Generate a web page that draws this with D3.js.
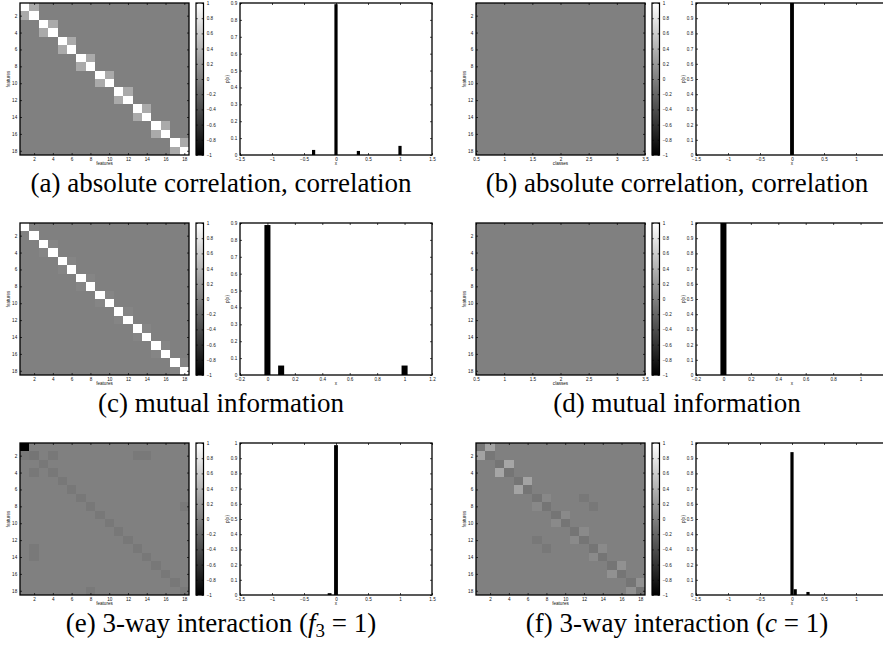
<!DOCTYPE html>
<html><head><meta charset="utf-8">
<script src="https://cdn.jsdelivr.net/npm/d3@7"></script>
<style>body{margin:0;background:#fff} svg{display:block;opacity:0.999}</style>
</head><body>
<svg id="c" width="883" height="647"></svg>
<script>
// ---------------- data ----------------
const featureTicks = [2,4,6,8,10,12,14,16,18];
const classTicks = [0.5,1,1.5,2,2.5,3,3.5];
const colorbarTicks = [-1,-0.8,-0.6,-0.4,-0.2,0,0.2,0.4,0.6,0.8,1];
const xTicksWide = [-1.5,-1,-0.5,0,0.5,1,1.5];
const xTicksNarrow = [-0.2,0,0.2,0.4,0.6,0.8,1,1.2];
const yTicks09 = [0,0.1,0.2,0.3,0.4,0.5,0.6,0.7,0.8,0.9];
const yTicks10 = [0,0.1,0.2,0.3,0.4,0.5,0.6,0.7,0.8,0.9,1];

// heatmap non-zero cells: [row, col, value]; all other cells are 0
const heatA = [
 [1,1,1],[1,2,0.33],[2,1,0.33],[2,2,1],
 [3,3,1],[3,4,0.33],[4,3,0.33],[4,4,1],
 [5,5,1],[5,6,0.33],[6,5,0.33],[6,6,1],
 [7,7,1],[7,8,0.33],[8,7,0.33],[8,8,1],
 [9,9,1],[9,10,0.33],[10,9,0.33],[10,10,1],
 [11,11,1],[11,12,0.33],[12,11,0.33],[12,12,1],
 [13,13,1],[13,14,0.33],[14,13,0.33],[14,14,1],
 [15,15,1],[15,16,0.33],[16,15,0.33],[16,16,1],
 [17,17,1],[17,18,0.33],[18,17,0.33],[18,18,1]
];
const heatB = [];
const heatC = [
 [1,1,1],[1,2,0.02],[2,1,0.02],[2,2,1],
 [3,3,1],[3,4,0.04],[4,3,0.04],[4,4,1],
 [5,5,1],[5,6,0.04],[6,5,0.04],[6,6,1],
 [7,7,1],[7,8,0.04],[8,7,0.04],[8,8,1],
 [9,9,1],[9,10,0.04],[10,9,0.04],[10,10,1],
 [11,11,1],[11,12,0.04],[12,11,0.04],[12,12,1],
 [13,13,1],[13,14,0.04],[14,13,0.04],[14,14,1],
 [15,15,1],[15,16,0.04],[16,15,0.04],[16,16,1],
 [17,17,1],[17,18,0.04],[18,17,0.04],[18,18,1]
];
const heatD = [];
const heatE = [
 [1,1,-1],
 [2,1,-0.06],[2,2,-0.08],[2,4,-0.06],[2,13,-0.05],[2,14,-0.05],
 [3,3,-0.06],[4,2,-0.06],[4,4,-0.06],
 [5,5,-0.06],[6,6,-0.06],[7,7,-0.06],[8,8,-0.06],[8,18,-0.05],
 [9,9,-0.06],[10,10,-0.06],[11,11,-0.06],[12,12,-0.06],
 [13,2,-0.05],[13,13,-0.06],[14,2,-0.05],[14,14,-0.06],
 [15,15,-0.06],[16,16,-0.06],[17,17,-0.06],
 [18,8,-0.05],[18,18,-0.04]
];
const heatF = [
 [1,1,-0.07],[1,2,0.28],[2,1,0.28],[2,2,-0.07],
 [3,3,-0.08],[3,4,0.3],[4,3,0.3],[4,4,-0.08],
 [5,5,-0.08],[5,6,0.28],[6,5,0.28],[6,6,-0.08],
 [7,7,-0.08],[7,8,0.07],[8,7,0.07],[8,8,-0.08],[7,12,-0.06],[8,13,-0.06],
 [9,9,-0.08],[9,10,0.08],[10,9,0.08],[10,10,-0.08],
 [11,11,-0.08],[11,12,0.08],[12,11,0.08],[12,12,-0.08],[12,7,-0.06],[13,8,-0.06],
 [13,13,-0.08],[13,14,0.08],[14,13,0.08],[14,14,-0.08],
 [15,15,-0.08],[15,16,0.14],[16,15,0.14],[16,16,-0.08],
 [17,17,-0.08],[17,18,0.14],[18,17,0.14],[18,18,-0.08]
];

// histogram bars
const barsAx = [-0.35, 0, 0.35, 1.0];
const barsAy = [0.03, 0.893, 0.024, 0.054];
const barsBx = [0];
const barsBy = [1.0];
const barsCx = [0, 0.1, 1.0];
const barsCy = [0.888, 0.056, 0.056];
const barsDx = [0];
const barsDy = [1.0];
const barsEx = [-0.1, 0];
const barsEy = [0.012, 0.986];
const barsFx = [0, 0.05, 0.25];
const barsFy = [0.94, 0.038, 0.02];

const captions = [
 [{t:"(a) absolute correlation, correlation"}],
 [{t:"(b) absolute correlation, correlation"}],
 [{t:"(c) mutual information"}],
 [{t:"(d) mutual information"}],
 [{t:"(e) 3-way interaction ("},{t:"f",i:true},{t:"3",sub:true},{t:" = 1)",up:true}],
 [{t:"(f) 3-way interaction ("},{t:"c",i:true},{t:" = 1)"}]
];

const panels = [
 {col:0,row:0, heat:heatA, nCols:18, hxTicks:featureTicks, hxLabel:"features", bx:barsAx, by:barsAy, bw:0.05, xDom:[-1.5,1.5], xTicks:xTicksWide, yMax:0.9, yTicks:yTicks09},
 {col:1,row:0, heat:heatB, nCols:3, hxTicks:classTicks, hxLabel:"classes", bx:barsBx, by:barsBy, bw:0.06, xDom:[-1.5,1.5], xTicks:xTicksWide, yMax:1, yTicks:yTicks10},
 {col:0,row:1, heat:heatC, nCols:18, hxTicks:featureTicks, hxLabel:"features", bx:barsCx, by:barsCy, bw:0.044, xDom:[-0.2,1.2], xTicks:xTicksNarrow, yMax:0.9, yTicks:yTicks09},
 {col:1,row:1, heat:heatD, nCols:3, hxTicks:classTicks, hxLabel:"classes", bx:barsDx, by:barsDy, bw:0.044, xDom:[-0.2,1.2], xTicks:xTicksNarrow, yMax:1, yTicks:yTicks10},
 {col:0,row:2, heat:heatE, nCols:18, hxTicks:featureTicks, hxLabel:"features", bx:barsEx, by:barsEy, bw:0.06, xDom:[-1.5,1.5], xTicks:xTicksWide, yMax:1, yTicks:yTicks10},
 {col:1,row:2, heat:heatF, nCols:18, hxTicks:featureTicks, hxLabel:"features", bx:barsFx, by:barsFy, bw:0.05, xDom:[-1.5,1.5], xTicks:xTicksWide, yMax:1, yTicks:yTicks10}
];

// ---------------- drawing ----------------
const W = 883;
const svg = d3.select("#c");
const NROWS = 18;
const TICKFONT = 4.6;
const fmt = d => (d < 0 ? "\u2212" : "") + String(Math.abs(d));
const gray = d3.scaleLinear().domain([-1,1]).range(["#000000","#ffffff"]);

const defs = svg.append("defs");
const grad = defs.append("linearGradient").attr("id","cbgrad").attr("x1",0).attr("y1",1).attr("x2",0).attr("y2",0);
grad.append("stop").attr("offset","0%").attr("stop-color","#000");
grad.append("stop").attr("offset","100%").attr("stop-color","#fff");

function styleAxis(sel){
  sel.attr("font-size",TICKFONT).attr("font-family","'Liberation Sans', Arial, sans-serif");
  sel.select(".domain").remove();
  sel.selectAll(".tick line").attr("stroke","#000").attr("stroke-width",0.7);
  sel.selectAll(".tick text").attr("fill","#111");
}

function frameAxes(g, xs, ys, xt, yt){
  const [x0,x1] = xs.range();
  const top = Math.min(...ys.range()), bot = Math.max(...ys.range());
  // labels only for ticks that fall inside the visible page
  const xfmt = d => (xs(d) > W - 2 ? "" : fmt(d));
  g.append("g").attr("transform",`translate(0,${bot})`)
   .call(d3.axisBottom(xs).tickValues(xt).tickSizeInner(-2).tickSizeOuter(0).tickPadding(2.3).tickFormat(xfmt))
   .call(styleAxis);
  g.append("g").attr("transform",`translate(0,${top})`)
   .call(d3.axisTop(xs).tickValues(xt).tickSizeInner(-2).tickSizeOuter(0).tickFormat(""))
   .call(styleAxis);
  g.append("g").attr("transform",`translate(${x0},0)`)
   .call(d3.axisLeft(ys).tickValues(yt).tickSizeInner(-2).tickSizeOuter(0).tickPadding(2.8).tickFormat(fmt))
   .call(styleAxis);
  g.append("g").attr("transform",`translate(${x1},0)`)
   .call(d3.axisRight(ys).tickValues(yt).tickSizeInner(-2).tickSizeOuter(0).tickFormat(""))
   .call(styleAxis);
  g.append("rect").attr("x",x0).attr("y",top).attr("width",x1-x0).attr("height",bot-top)
   .attr("fill","none").attr("stroke","#000").attr("stroke-width",1.3);
}

function label(g, x, y, text, rot){
  g.append("text").attr("x",x).attr("y",y).attr("text-anchor","middle")
   .attr("font-size",TICKFONT).attr("font-family","'Liberation Sans', Arial, sans-serif")
   .attr("fill","#111")
   .attr("transform", rot ? `rotate(-90,${x},${y})` : null)
   .text(text);
}

panels.forEach((p, idx) => {
  const ox = p.col * 456, oy = p.row * 220;
  const g = svg.append("g");
  const hx0 = ox + 20, hx1 = ox + 189, ty = oy + 3, by = oy + 155;

  // ---- heatmap ----
  const xs = d3.scaleLinear().domain([0.5, p.nCols + 0.5]).range([hx0, hx1]);
  const ys = d3.scaleLinear().domain([0.5, NROWS + 0.5]).range([ty, by]);
  const lookup = new Map(p.heat.map(d => [d[0] + "_" + d[1], d[2]]));
  const cells = [];
  for (let r = 1; r <= NROWS; r++) for (let c = 1; c <= p.nCols; c++)
    cells.push({r, c, v: lookup.has(r+"_"+c) ? lookup.get(r+"_"+c) : 0});
  g.append("g").selectAll("rect").data(cells).join("rect")
   .attr("x", d => xs(d.c - 0.5)).attr("y", d => ys(d.r - 0.5))
   .attr("width", xs(1.5) - xs(0.5) + 0.4).attr("height", ys(1.5) - ys(0.5) + 0.4)
   .attr("fill", d => gray(d.v)).attr("shape-rendering","crispEdges");
  frameAxes(g, xs, ys, p.hxTicks, featureTicks);
  label(g, (hx0 + hx1) / 2, by + 9.6, p.hxLabel, false);
  label(g, ox + 9.5, (ty + by) / 2, "features", true);

  // ---- colorbar ----
  const cx0 = ox + 196, cx1 = ox + 203.5;
  const cs = d3.scaleLinear().domain([-1, 1]).range([by, ty]);
  g.append("rect").attr("x",cx0).attr("y",ty).attr("width",cx1-cx0).attr("height",by-ty).attr("fill","url(#cbgrad)");
  g.append("g").attr("transform",`translate(${cx1},0)`)
   .call(d3.axisRight(cs).tickValues(colorbarTicks).tickSizeInner(-1.8).tickSizeOuter(0).tickPadding(3.2).tickFormat(fmt))
   .call(styleAxis);
  g.append("g").attr("transform",`translate(${cx0},0)`)
   .call(d3.axisLeft(cs).tickValues(colorbarTicks).tickSizeInner(-1.8).tickSizeOuter(0).tickFormat(""))
   .call(styleAxis);
  g.append("rect").attr("x",cx0).attr("y",ty).attr("width",cx1-cx0).attr("height",by-ty)
   .attr("fill","none").attr("stroke","#000").attr("stroke-width",1.2);

  // ---- bar chart ----
  const bx0 = ox + 240, bx1 = ox + 432;
  const bxs = d3.scaleLinear().domain(p.xDom).range([bx0, bx1]);
  const bys = d3.scaleLinear().domain([0, p.yMax]).range([by, ty]);
  const bars = p.bx.map((x, i) => ({x, y: p.by[i]}));
  g.append("g").selectAll("rect").data(bars).join("rect")
   .attr("x", d => bxs(d.x - p.bw / 2)).attr("width", d => bxs(d.x + p.bw / 2) - bxs(d.x - p.bw / 2))
   .attr("y", d => bys(d.y)).attr("height", d => bys(0) - bys(d.y))
   .attr("fill","#000");
  frameAxes(g, bxs, bys, p.xTicks, p.yTicks);
  label(g, (bx0 + bx1) / 2, by + 9.6, "x", false);
  label(g, bx0 - 11, (ty + by) / 2, "p(x)", true);

  // ---- caption ----
  const t = svg.append("text").attr("x", ox + 221).attr("y", oy + 192)
   .attr("text-anchor","middle").attr("font-size",27)
   .attr("font-family","'Liberation Serif', 'Times New Roman', serif").attr("fill","#000");
  captions[idx].forEach(s => {
    const ts = t.append("tspan").text(s.t);
    if (s.i) ts.attr("font-style","italic");
    if (s.sub) ts.attr("font-size",19).attr("dy",5);
    if (s.up) ts.attr("dy",-5);
  });
});
</script>
</body></html>
